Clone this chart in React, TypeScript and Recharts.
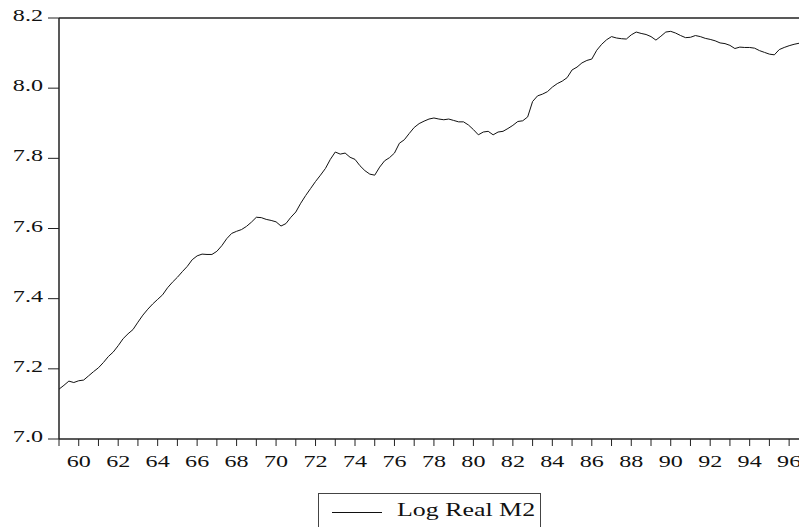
import { LineChart, Line, XAxis, YAxis, ReferenceLine } from 'recharts';

// quarterly, 1959Q1 .. 1996Q3
const startYear = 1959;
const logRealM2 = [
  7.142, 7.153, 7.165, 7.161,
  7.166, 7.168, 7.180, 7.192,
  7.203, 7.218, 7.235, 7.248,
  7.266, 7.286, 7.300, 7.312,
  7.333, 7.353, 7.370, 7.385,
  7.398, 7.411, 7.431, 7.447,
  7.461, 7.477, 7.492, 7.511,
  7.522, 7.527, 7.526, 7.526,
  7.535, 7.551, 7.571, 7.586,
  7.592, 7.597, 7.606, 7.618,
  7.632, 7.631, 7.626, 7.623,
  7.619, 7.607, 7.614, 7.632,
  7.647, 7.672, 7.694, 7.714,
  7.734, 7.752, 7.771, 7.797,
  7.818, 7.812, 7.815, 7.803,
  7.797, 7.779, 7.765, 7.755,
  7.752, 7.775, 7.793, 7.802,
  7.815, 7.843, 7.853, 7.871,
  7.888, 7.899, 7.906, 7.912,
  7.915, 7.912, 7.910, 7.912,
  7.908, 7.904, 7.904, 7.895,
  7.882, 7.867, 7.875, 7.877,
  7.867, 7.875, 7.877, 7.885,
  7.894, 7.905, 7.907, 7.918,
  7.962, 7.978, 7.983, 7.990,
  8.003, 8.013, 8.020, 8.030,
  8.052, 8.060, 8.072, 8.079,
  8.083, 8.108, 8.125, 8.138,
  8.147, 8.143, 8.141, 8.140,
  8.152, 8.160, 8.156, 8.153,
  8.147, 8.137, 8.148, 8.160,
  8.162, 8.157, 8.150, 8.144,
  8.145, 8.150, 8.147, 8.142,
  8.139, 8.135, 8.129, 8.127,
  8.122, 8.113, 8.117, 8.116,
  8.116, 8.114, 8.107, 8.102,
  8.097, 8.095, 8.110, 8.116,
  8.121, 8.125, 8.128,
];

const yearTicks = [
  1959, 1960, 1961, 1962, 1963, 1964, 1965, 1966, 1967, 1968,
  1969, 1970, 1971, 1972, 1973, 1974, 1975, 1976, 1977, 1978,
  1979, 1980, 1981, 1982, 1983, 1984, 1985, 1986, 1987, 1988,
  1989, 1990, 1991, 1992, 1993, 1994, 1995, 1996,
];
const valueTicks = [7.0, 7.2, 7.4, 7.6, 7.8, 8.0, 8.2];
const seriesName = 'Log Real M2';

const data = logRealM2.map((v, i) => ({ t: startYear + i / 4, v }));

const FONT = '"Liberation Serif", "Times New Roman", serif';
const STRETCH = 1.42;

const XTick = (props: any) => {
  const { x, y, payload } = props;
  if (payload.value % 2 !== 0) return null;
  return (
    <text
      transform={`translate(${x},${y + 21}) scale(${STRETCH},1)`}
      textAnchor="middle"
      fontFamily={FONT}
      fontSize={17}
      fill="#111"
    >
      {String(payload.value).slice(2)}
    </text>
  );
};

const YTick = (props: any) => {
  const { x, y, payload } = props;
  return (
    <text
      transform={`translate(${x},${y + 3}) scale(${STRETCH},1)`}
      textAnchor="end"
      fontFamily={FONT}
      fontSize={17}
      fill="#111"
    >
      {payload.value.toFixed(1)}
    </text>
  );
};

export default function App() {
  return (
    <div style={{ position: 'absolute', left: 0, top: 0, width: 799, height: 527, overflow: 'hidden', background: '#fff' }}>
      <LineChart width={799} height={527} data={data} margin={{ top: 18, right: 0, left: 0, bottom: 48 }}>
        <XAxis
          dataKey="t"
          type="number"
          domain={[1959, 1996.5]}
          allowDataOverflow
          ticks={yearTicks}
          interval={0}
          height={40}
          tickSize={7}
          tickMargin={0}
          axisLine={{ stroke: '#222', strokeWidth: 1.5 }}
          tickLine={{ stroke: '#222' }}
          tick={<XTick />}
        />
        <YAxis
          type="number"
          domain={[7.0, 8.2]}
          ticks={valueTicks}
          interval={0}
          width={59}
          tickSize={11}
          tickMargin={5}
          axisLine={{ stroke: '#222', strokeWidth: 1.5 }}
          tickLine={{ stroke: '#222' }}
          tick={<YTick />}
        />
        <ReferenceLine y={8.2} stroke="#222" strokeWidth={1.5} />
        <Line
          type="linear"
          dataKey="v"
          stroke="#111"
          strokeWidth={1}
          dot={false}
          isAnimationActive={false}
        />
      </LineChart>
      <svg width={799} height={527} style={{ position: 'absolute', left: 0, top: 0, pointerEvents: 'none' }}>
        <rect x={318.5} y={493.5} width={222} height={60} fill="none" stroke="#444" strokeWidth={1} />
        <line x1={332} x2={382} y1={512.5} y2={512.5} stroke="#111" strokeWidth={1} />
        <text
          transform={`translate(397,515.5) scale(1.4,1)`}
          fontFamily={FONT}
          fontSize={18.5}
          fill="#111"
        >
          {seriesName}
        </text>
      </svg>
    </div>
  );
}
